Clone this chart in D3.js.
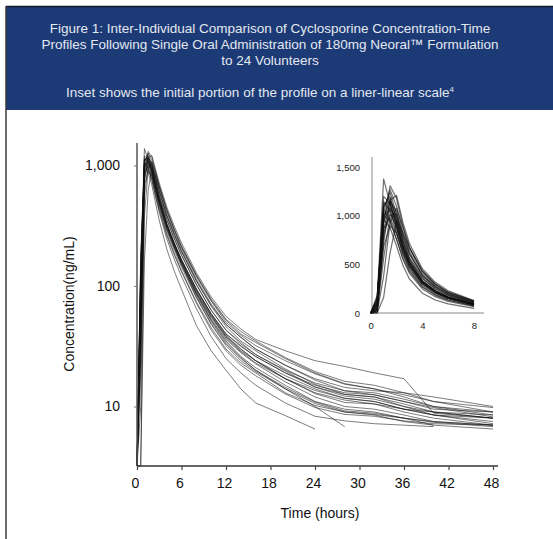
<!DOCTYPE html>
<html>
<head>
<meta charset="utf-8">
<script src="https://cdn.jsdelivr.net/npm/d3@7"></script>
<style>
  body { margin: 0; background: #fff; }
  svg { display: block; font-family: "Liberation Sans", Arial, Helvetica, sans-serif; }
</style>
</head>
<body>
<div id="chart"></div>
<script>
const W = 553, H = 539;

const titleLines = [
  "Figure 1: Inter-Individual Comparison of Cyclosporine Concentration-Time",
  "Profiles Following Single Oral Administration of 180mg Neoral™ Formulation",
  "to 24 Volunteers"
];
const insetNote = "Inset shows the initial portion of the profile on a liner-linear scale";

// sampling times (hours)
const times = [0, 0.5, 1, 1.5, 2, 2.5, 3, 4, 5, 6, 8, 10, 12, 14, 16, 20, 24, 28, 32, 36, 40, 48];

// concentration (ng/mL) per volunteer, null = not measured / below limit
const v01 = [0, 150, 1380, 1120, 880, 645, 495, 312, 224, 164, 94, 59, 40, 32, 26, 19, 14.5, 12.6, 12, 10, 9, 8];
const v02 = [0, 60, 920, 1310, 1180, 885, 670, 416, 288, 208, 120, 75, 50, 39, 32, 24, 18.7, 15.3, 14, 12, 10, 8.5];
const v03 = [0, 90, 1080, 1240, 1020, 765, 570, 360, 252, 182, 104, 63, 43, 33, 27, 19.7, 14.5, 12.2, 11.5, 10, 8.5, 7.2];
const v04 = [0, 20, 720, 1160, 1210, 930, 715, 456, 316, 228, 129, 81, 56, 44, 36, 29, 24, 21.5, 19, 17, 8.8, 8];
const v05 = [0, 180, 960, 880, 690, 488, 350, 204, 134, 94, 47, 29, 20, 14, 10.7, 8.4, 6.5, null, null, null, null, null];
const v06 = [0, 100, 1010, 1060, 870, 645, 480, 300, 210, 150, 81, 49, 33, 25, 20, 14, 10, 6.8, null, null, null, null];
const v07 = [0, 40, 850, 1150, 1050, 800, 612, 384, 268, 192, 110, 68, 46, 35, 29, 20.5, 15.3, 12.6, 12, 10.5, 9, 8];
const v08 = [0, 120, 1150, 1050, 830, 598, 442, 272, 188, 134, 74, 45, 30, 23, 19, 13, 10.2, 9, 8.6, 8, 7.5, 7];
const v09 = [0, 0, 380, 930, 1080, 885, 680, 432, 296, 212, 122, 76, 52, 40, 34, 25, 19, 15.5, 14, 12.5, 11, 9.8];
const v10 = [0, 70, 990, 1180, 980, 728, 545, 336, 232, 166, 94, 58, 39, 30, 24, 17, 13, 11.3, 10.5, 9, 8, 7];
const v11 = [0, 30, 780, 1080, 960, 718, 535, 328, 224, 160, 87, 52, 35, 26, 21, 15, 11, 9.5, 9, 8, 7, null];
const v12 = [0, 110, 1100, 1200, 950, 700, 520, 320, 220, 156, 88, 55, 37, 28.5, 23, 17, 13.6, 11.7, 11, 9.5, 8.5, 7.5];
const v13 = [0, 0, 160, 620, 940, 830, 665, 432, 300, 216, 124, 78, 53, 42, 35, 25.5, 19.5, 16.2, 15, 13, 11, 9];
const v14 = [0, 50, 870, 980, 820, 608, 460, 288, 200, 144, 80, 48, 32, 24, 19.5, 14, 10.6, 9, 8.5, 7.5, 7, 6.5];
const v15 = [0, 140, 1200, 1130, 900, 662, 500, 316, 220, 158, 90, 56, 38, 30, 24, 18, 14, 11.7, 11, 9.5, 8.5, 8];
const v16 = [0, 25, 680, 900, 820, 625, 476, 300, 210, 152, 86, 53, 36, 28, 22.6, 16, 12, 10, 9.5, 8.5, 7.5, 7];
const v17 = [0, 85, 1040, 1270, 1100, 830, 630, 396, 276, 200, 114, 71, 48, 37.5, 30, 22, 17, 14.4, 13.5, 13, 12, 10];
const v18 = [0, 160, 1060, 960, 760, 552, 408, 248, 168, 120, 65, 38, 25, 19, 15, 10.7, 8.3, 7.6, 7.2, 7, 6.8, null];
const v19 = [0, 55, 940, 1090, 930, 690, 518, 324, 224, 162, 92, 57, 38, 29, 24, 17, 12.8, 10.8, 10.5, 9.5, 9, 8.5];
const v20 = [0, 10, 560, 1000, 1020, 790, 605, 384, 268, 194, 111, 69, 48, 37.5, 30, 22, 16.6, 13.5, 12.5, 11, 9.8, 8.2];
const v21 = [0, 95, 1120, 1140, 920, 672, 500, 308, 212, 152, 84, 51, 34, 25.5, 20, 14.4, 10.9, 9.2, 8.8, 8, 7.4, 6.8];
const v22 = [0, 35, 820, 1020, 900, 680, 518, 328, 228, 165, 95, 59, 40, 31.5, 26, 19, 15, 13, 12.5, 11, 9.5, 9];
const v23 = [0, 130, 1010, 940, 760, 560, 425, 264, 182, 131, 72, 43, 29, 22, 18, 12.7, 9.8, 8.6, 8.3, 7.6, 7.2, 7];
const v24 = [0, 75, 960, 1150, 990, 745, 560, 356, 248, 179, 102, 63, 43, 34, 27, 20, 15.7, 13.5, 13, 11.5, 10, 9];

const profiles = [v01, v02, v03, v04, v05, v06, v07, v08, v09, v10, v11, v12,
                  v13, v14, v15, v16, v17, v18, v19, v20, v21, v22, v23, v24];

const mainXTicks = [0, 6, 12, 18, 24, 30, 36, 42, 48];
const mainYTicks = [10, 100, 1000];
const insetXTicks = [0, 4, 8];
const insetYTicks = [0, 500, 1000, 1500];

const svg = d3.select("#chart").append("svg")
  .attr("width", W)
  .attr("height", H);

// header band
svg.append("rect")
  .attr("x", 6).attr("y", 6)
  .attr("width", W - 6).attr("height", 104)
  .attr("fill", "#1b3a76");
svg.append("line")
  .attr("x1", 6).attr("x2", W).attr("y1", 6.5).attr("y2", 6.5)
  .attr("stroke", "#111a2c").attr("stroke-width", 1.5);
svg.append("line")
  .attr("x1", 6).attr("x2", 6).attr("y1", 6).attr("y2", H)
  .attr("stroke", "#3a3a3a").attr("stroke-width", 1.5);

const head = svg.append("g")
  .attr("fill", "#e4e8f0")
  .attr("font-size", "13.5px")
  .attr("text-anchor", "middle");

head.selectAll("text.t")
  .data(titleLines)
  .enter().append("text")
    .attr("class", "t")
    .attr("x", 270)
    .attr("y", (d, i) => 33 + i * 16)
    .text(d => d);

const note = head.append("text")
  .attr("x", 260)
  .attr("y", 97);
note.append("tspan").text(insetNote);
note.append("tspan")
  .attr("font-size", "8px")
  .attr("dy", -5)
  .text("4");

// main chart (log scale)
const x = d3.scaleLinear().domain([0, 48]).range([137, 493]);
const y = d3.scaleLog().domain([10, 1000]).range([406.5, 165.5]);
const yFloor = y.invert(466);

const pairs = arr => times.map((t, i) => [t, arr[i]]).filter(d => d[1] != null);

const mainLine = d3.line()
  .x(d => x(d[0]))
  .y(d => y(Math.max(d[1], yFloor)));

svg.append("g")
  .selectAll("path")
  .data(profiles)
  .enter().append("path")
    .attr("d", d => mainLine(pairs(d)))
    .attr("fill", "none")
    .attr("stroke", "#111")
    .attr("stroke-opacity", 0.55)
    .attr("stroke-width", 1)
    .attr("stroke-linejoin", "round");

// main axes
svg.append("line")
  .attr("x1", 137).attr("x2", 137).attr("y1", 143).attr("y2", 466)
  .attr("stroke", "#555").attr("stroke-width", 1.5);
svg.append("line")
  .attr("x1", 137).attr("x2", 498).attr("y1", 466).attr("y2", 466)
  .attr("stroke", "#333").attr("stroke-width", 1.5);

const xAxisG = svg.append("g")
  .attr("transform", "translate(0,466)")
  .call(d3.axisBottom(x).tickValues(mainXTicks).tickSize(4).tickPadding(8).tickFormat(d3.format("d")));
xAxisG.select(".domain").remove();
xAxisG.selectAll("line").attr("stroke", "#444").attr("stroke-width", 1.2);
xAxisG.selectAll("text")
  .attr("font-size", "14px")
  .attr("font-family", "Liberation Sans, Arial, sans-serif")
  .attr("fill", "#111")
  .attr("dx", -2);

const yAxisG = svg.append("g")
  .attr("transform", "translate(137,0)")
  .call(d3.axisLeft(y).tickValues(mainYTicks).tickSize(3).tickPadding(14).tickFormat(d3.format(",")));
yAxisG.select(".domain").remove();
yAxisG.selectAll("line").attr("stroke", "#777");
yAxisG.selectAll("text")
  .attr("font-size", "14px")
  .attr("font-family", "Liberation Sans, Arial, sans-serif")
  .attr("fill", "#111");

svg.append("text")
  .attr("x", 320)
  .attr("y", 518)
  .attr("text-anchor", "middle")
  .attr("font-size", "14px")
  .attr("fill", "#111")
  .text("Time (hours)");

svg.append("text")
  .attr("transform", "translate(74,304) rotate(-90)")
  .attr("text-anchor", "middle")
  .attr("font-size", "14px")
  .attr("fill", "#111")
  .text("Concentration(ng/mL)");

// inset (linear scale, first 8 hours)
const xi = d3.scaleLinear().domain([0, 8]).range([370.7, 474]);
const yi = d3.scaleLinear().domain([0, 1500]).range([313, 167.3]);

const insetLine = d3.line()
  .x(d => xi(d[0]))
  .y(d => yi(d[1]));

svg.append("line")
  .attr("x1", 372).attr("x2", 372).attr("y1", 157).attr("y2", 313)
  .attr("stroke", "#c4c4c4").attr("stroke-width", 2);
svg.append("line")
  .attr("x1", 370).attr("x2", 484).attr("y1", 313).attr("y2", 313)
  .attr("stroke", "#c4c4c4").attr("stroke-width", 2);

svg.append("g")
  .selectAll("path")
  .data(profiles)
  .enter().append("path")
    .attr("d", d => insetLine(pairs(d).filter(p => p[0] <= 8)))
    .attr("fill", "none")
    .attr("stroke", "#111")
    .attr("stroke-opacity", 0.6)
    .attr("stroke-width", 1.2)
    .attr("stroke-linejoin", "round");

const xiAxis = svg.append("g")
  .attr("transform", "translate(0,313)")
  .call(d3.axisBottom(xi).tickValues(insetXTicks).tickSize(0).tickPadding(9).tickFormat(d3.format("d")));
xiAxis.select(".domain").remove();
xiAxis.selectAll("text")
  .attr("font-size", "9.5px")
  .attr("font-family", "Liberation Sans, Arial, sans-serif")
  .attr("fill", "#222");

const yiAxis = svg.append("g")
  .attr("transform", "translate(372,0)")
  .call(d3.axisLeft(yi).tickValues(insetYTicks).tickSize(0).tickPadding(12).tickFormat(d3.format(",")));
yiAxis.select(".domain").remove();
yiAxis.selectAll("text")
  .attr("font-size", "9.5px")
  .attr("font-family", "Liberation Sans, Arial, sans-serif")
  .attr("fill", "#222");
</script>
</body>
</html>
